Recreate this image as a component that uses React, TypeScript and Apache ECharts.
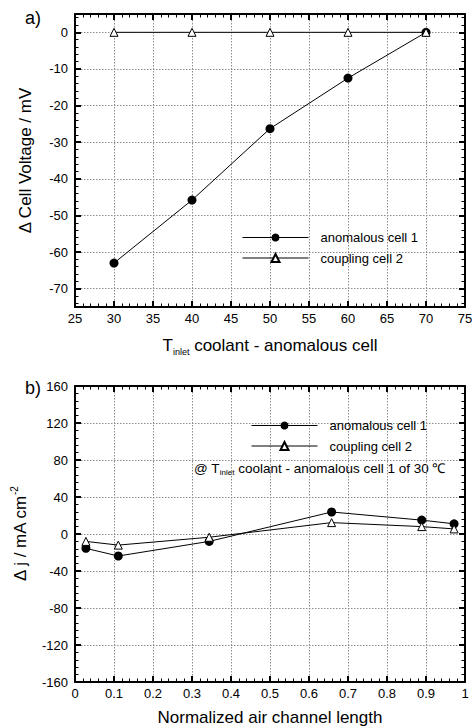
import React, { useEffect, useRef } from 'react';
import * as echarts from 'echarts';

// ---- data ----
const tempInlet = [30, 40, 50, 60, 70];
const voltAnomalous = [-63, -45.8, -26.3, -12.5, 0];
const voltCoupling = [0, 0, 0, 0, 0];

const chanPos = [0.028, 0.111, 0.344, 0.658, 0.889, 0.972];
const jAnomalous = [-15.5, -23.8, -8, 23.8, 15, 11];
const jCoupling = [-8, -12, -3.5, 12.3, 8, 5.5];

const voltTicks = [-70, -60, -50, -40, -30, -20, -10, 0];
const voltMinorTicks = [-74, -72, -68, -66, -64, -62, -58, -56, -54, -52, -48, -46, -44, -42, -38, -36, -34, -32, -28, -26, -24, -22, -18, -16, -14, -12, -8, -6, -4, -2, 2, 4];

const seriesNames = ['anomalous cell 1', 'coupling cell 2'];

const FONT = "'Liberation Sans', Arial, Helvetica, sans-serif";

export default function App() {
  const ref = useRef<HTMLDivElement>(null);

  useEffect(() => {
    if (!ref.current) return;
    const chart = echarts.init(ref.current, null, { renderer: 'svg' });

    const axisLine = () => ({ show: true, onZero: false, lineStyle: { color: '#000', width: 2 } });
    const majTick = (extra: any = {}) => ({ show: true, inside: true, length: 6, lineStyle: { color: '#000', width: 2 }, ...extra });
    const minTick = () => ({ show: true, splitNumber: 5, length: 3.5, lineStyle: { color: '#000', width: 1 } });
    const split = () => ({ show: true, lineStyle: { color: '#8c8c8c', width: 1, type: [1.5, 1.5] } });
    const label = (extra: any = {}) => ({ show: true, color: '#000', fontSize: 13, fontFamily: FONT, ...extra });
    const noLabel = () => ({ show: false });
    const noSplit = () => ({ show: false });

    const nameStyle = (extra: any = {}) => ({ color: '#000', fontFamily: FONT, fontSize: 17, lineHeight: 22, ...extra });

    const minorYAxis = (position: string) => ({
      gridIndex: 0, type: 'value', position, min: -75, max: 5, offset: 0,
      axisLine: { show: false },
      axisTick: { show: true, inside: true, length: 3.5, lineStyle: { color: '#000', width: 1 }, customValues: voltMinorTicks },
      splitLine: noSplit(), axisLabel: { show: false },
    });

    const legendBase = (left: number, top: number) => ({
      data: seriesNames, orient: 'vertical', left, top, padding: 0,
      itemWidth: 66, itemHeight: 10, itemGap: 7.5, selectedMode: false,
      lineStyle: { width: 1, color: '#000' },
      textStyle: { fontSize: 13, color: '#000', fontFamily: FONT, padding: [0, 0, 0, 7] },
    });

    const option: any = {
      animation: false,
      backgroundColor: '#fff',
      textStyle: { fontFamily: FONT },
      grid: [
        { left: 75, top: 14, width: 390, height: 293, outerBoundsMode: 'none' },
        { left: 75, top: 386, width: 390, height: 296, outerBoundsMode: 'none' },
      ],
      xAxis: [
        {
          gridIndex: 0, type: 'value', position: 'bottom', min: 25, max: 75, interval: 5,
          axisLine: axisLine(), axisTick: majTick(), minorTick: minTick(), splitLine: split(),
          axisLabel: label({ margin: 5 }),
          name: '{t|T}{s|inlet}{t| coolant - anomalous cell}',
          nameLocation: 'middle', nameGap: 27,
          nameTextStyle: nameStyle({
            rich: {
              t: { fontSize: 17, lineHeight: 22, color: '#000', fontFamily: FONT },
              s: { fontSize: 9, lineHeight: 8, verticalAlign: 'bottom', color: '#000', fontFamily: FONT },
            },
          }),
        },
        {
          gridIndex: 0, type: 'value', position: 'top', min: 25, max: 75, interval: 5,
          axisLine: axisLine(), axisTick: majTick(), minorTick: minTick(), splitLine: noSplit(), axisLabel: noLabel(),
        },
        {
          gridIndex: 1, type: 'value', position: 'bottom', min: 0, max: 1, interval: 0.1,
          axisLine: axisLine(), axisTick: majTick(), minorTick: minTick(), splitLine: split(),
          axisLabel: label({ margin: 5 }),
          name: 'Normalized air channel length',
          nameLocation: 'middle', nameGap: 24,
          nameTextStyle: nameStyle(),
        },
        {
          gridIndex: 1, type: 'value', position: 'top', min: 0, max: 1, interval: 0.1,
          axisLine: axisLine(), axisTick: majTick(), minorTick: minTick(), splitLine: noSplit(), axisLabel: noLabel(),
        },
      ],
      yAxis: [
        {
          gridIndex: 0, type: 'value', position: 'left', min: -75, max: 5,
          axisLine: axisLine(), axisTick: majTick({ customValues: voltTicks }),
          splitLine: split(),
          axisLabel: label({ margin: 7, customValues: voltTicks }),
          name: 'Δ Cell Voltage / mV', nameLocation: 'middle', nameGap: 39,
          nameTextStyle: nameStyle(),
        },
        {
          gridIndex: 0, type: 'value', position: 'right', min: -75, max: 5,
          axisLine: axisLine(), axisTick: majTick({ customValues: voltTicks }),
          splitLine: noSplit(), axisLabel: { show: false },
        },
        minorYAxis('left'),
        minorYAxis('right'),
        {
          gridIndex: 1, type: 'value', position: 'left', min: -160, max: 160, interval: 40,
          axisLine: axisLine(), axisTick: majTick(), minorTick: minTick(), splitLine: split(),
          axisLabel: label({ margin: 7 }),
          name: '{t|Δ j / mA cm}{p|-2}', nameLocation: 'middle', nameGap: 39,
          nameTextStyle: nameStyle({
            rich: {
              t: { fontSize: 17, lineHeight: 22, color: '#000', fontFamily: FONT },
              p: { fontSize: 10, lineHeight: 10, verticalAlign: 'top', color: '#000', fontFamily: FONT },
            },
          }),
        },
        {
          gridIndex: 1, type: 'value', position: 'right', min: -160, max: 160, interval: 40,
          axisLine: axisLine(), axisTick: majTick(), minorTick: minTick(), splitLine: noSplit(), axisLabel: noLabel(),
        },
      ],
      legend: [legendBase(242, 231), legendBase(251, 419)],
      graphic: [
        { type: 'text', left: 25, top: 9, style: { text: 'a)', fontSize: 18, fontFamily: FONT, fill: '#000' } },
        { type: 'text', left: 25, top: 379, style: { text: 'b)', fontSize: 18, fontFamily: FONT, fill: '#000' } },
        {
          type: 'text', left: 194, top: 461,
          style: {
            text: '{t|@ T}{s|inlet}{t| coolant - anomalous cell 1 of 30 ℃}',
            fill: '#000', fontFamily: FONT,
            rich: {
              t: { fontSize: 13.5, lineHeight: 17, fill: '#000', color: '#000', fontFamily: FONT },
              s: { fontSize: 8, lineHeight: 7, verticalAlign: 'bottom', fill: '#000', color: '#000', fontFamily: FONT },
            },
          },
        },
      ],
      series: [
        {
          type: 'line', name: seriesNames[0], xAxisIndex: 0, yAxisIndex: 0,
          data: tempInlet.map((x, i) => [x, voltAnomalous[i]]),
          symbol: 'circle', symbolSize: 9, z: 3,
          lineStyle: { color: '#000', width: 1 }, itemStyle: { color: '#000' },
        },
        {
          type: 'line', name: seriesNames[1], xAxisIndex: 0, yAxisIndex: 0,
          data: tempInlet.map((x, i) => [x, voltCoupling[i]]),
          symbol: 'triangle', symbolSize: 8, z: 4,
          lineStyle: { color: '#000', width: 1 }, itemStyle: { color: '#fff', borderColor: '#000', borderWidth: 1 },
        },
        {
          type: 'line', name: seriesNames[0], xAxisIndex: 2, yAxisIndex: 4,
          data: chanPos.map((x, i) => [x, jAnomalous[i]]),
          symbol: 'circle', symbolSize: 9, z: 3,
          lineStyle: { color: '#000', width: 1 }, itemStyle: { color: '#000' },
        },
        {
          type: 'line', name: seriesNames[1], xAxisIndex: 2, yAxisIndex: 4,
          data: chanPos.map((x, i) => [x, jCoupling[i]]),
          symbol: 'triangle', symbolSize: 8, z: 4,
          lineStyle: { color: '#000', width: 1 }, itemStyle: { color: '#fff', borderColor: '#000', borderWidth: 1 },
        },
      ],
    };

    chart.setOption(option);
    return () => chart.dispose();
  }, []);

  return (
    <div
      ref={ref}
      style={{ position: 'absolute', left: 0, top: 0, width: 475, height: 728, background: '#fff' }}
    />
  );
}
